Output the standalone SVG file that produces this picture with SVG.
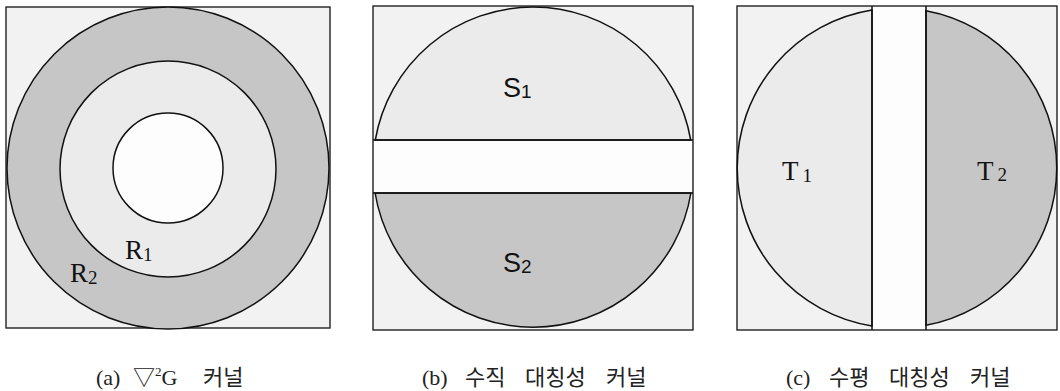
<svg xmlns="http://www.w3.org/2000/svg" width="1060" height="391" viewBox="0 0 1060 391">
<style>
.box{fill:#f2f2f2;stroke:#222;stroke-width:1.4}
.ln{fill:none;stroke:#111;stroke-width:1.5}
.dark{fill:#c6c6c6}
.light{fill:#ebebeb}
.white{fill:#fdfdfd}
.lbl{font-family:"Liberation Serif","Noto Sans CJK KR",serif;font-size:27px;fill:#111}
.lbls{font-family:"Liberation Sans","Noto Sans CJK KR",sans-serif;font-size:27px;fill:#111}
.sub{font-size:19px}
.cap{font-family:"Liberation Serif","Noto Sans CJK KR",serif;font-size:22px;fill:#222}
.ko{font-family:"Noto Sans CJK KR",sans-serif;font-size:22px}
</style>
<rect width="1060" height="391" fill="#fff"/>
<g id="panel-a">
<rect class="box" x="6" y="7" width="324" height="321"/>
<circle class="dark ln" cx="168" cy="168" r="161"/>
<circle class="light ln" cx="168" cy="169" r="108"/>
<circle class="white ln" cx="168" cy="168" r="55"/>
<text class="lbl" x="125" y="259">R<tspan class="sub" dy="2">1</tspan></text>
<text class="lbl" x="70" y="282">R<tspan class="sub" dy="2">2</tspan></text>
</g>
<g id="panel-b">
<rect class="box" x="373" y="6" width="320" height="324"/>
<path class="light ln" d="M375.3,140 A160,160 0 0 1 690.7,140 Z"/>
<path class="dark ln" d="M690.9,193 A160,160 0 0 1 375.1,193 Z"/>
<rect class="white" x="374" y="141" width="318" height="51"/>
<line class="ln" x1="373" y1="140" x2="693" y2="140"/>
<line class="ln" x1="373" y1="193" x2="693" y2="193"/>
<text class="lbls" x="503" y="97">S<tspan class="sub" dy="1">1</tspan></text>
<text class="lbls" x="503" y="272">S<tspan class="sub" dy="1">2</tspan></text>
</g>
<g id="panel-c">
<rect class="box" x="737" y="6" width="320" height="324"/>
<path class="light ln" d="M872,10 A160,160 0 0 0 872,326 Z"/>
<path class="dark ln" d="M926,10.7 A160,160 0 0 1 926,325.3 Z"/>
<rect class="white" x="873" y="7" width="52" height="322"/>
<line class="ln" x1="872" y1="6" x2="872" y2="330"/>
<line class="ln" x1="926" y1="6" x2="926" y2="330"/>
<text class="lbl" x="782" y="180">T<tspan class="sub" dx="4" dy="2">1</tspan></text>
<text class="lbl" x="977" y="180">T<tspan class="sub" dx="4" dy="1">2</tspan></text>
</g>
<g id="captions">
<text class="cap" y="385"><tspan x="96">(a)</tspan><tspan x="133">▽</tspan><tspan font-size="13" dy="-9">2</tspan><tspan dy="9">G</tspan><tspan class="ko" x="203">커널</tspan></text>
<text class="cap" y="385"><tspan x="422">(b)</tspan><tspan class="ko" x="465">수직</tspan><tspan class="ko" x="525">대칭성</tspan><tspan class="ko" x="606">커널</tspan></text>
<text class="cap" y="385"><tspan x="786">(c)</tspan><tspan class="ko" x="829">수평</tspan><tspan class="ko" x="889">대칭성</tspan><tspan class="ko" x="970">커널</tspan></text>
</g>
</svg>
